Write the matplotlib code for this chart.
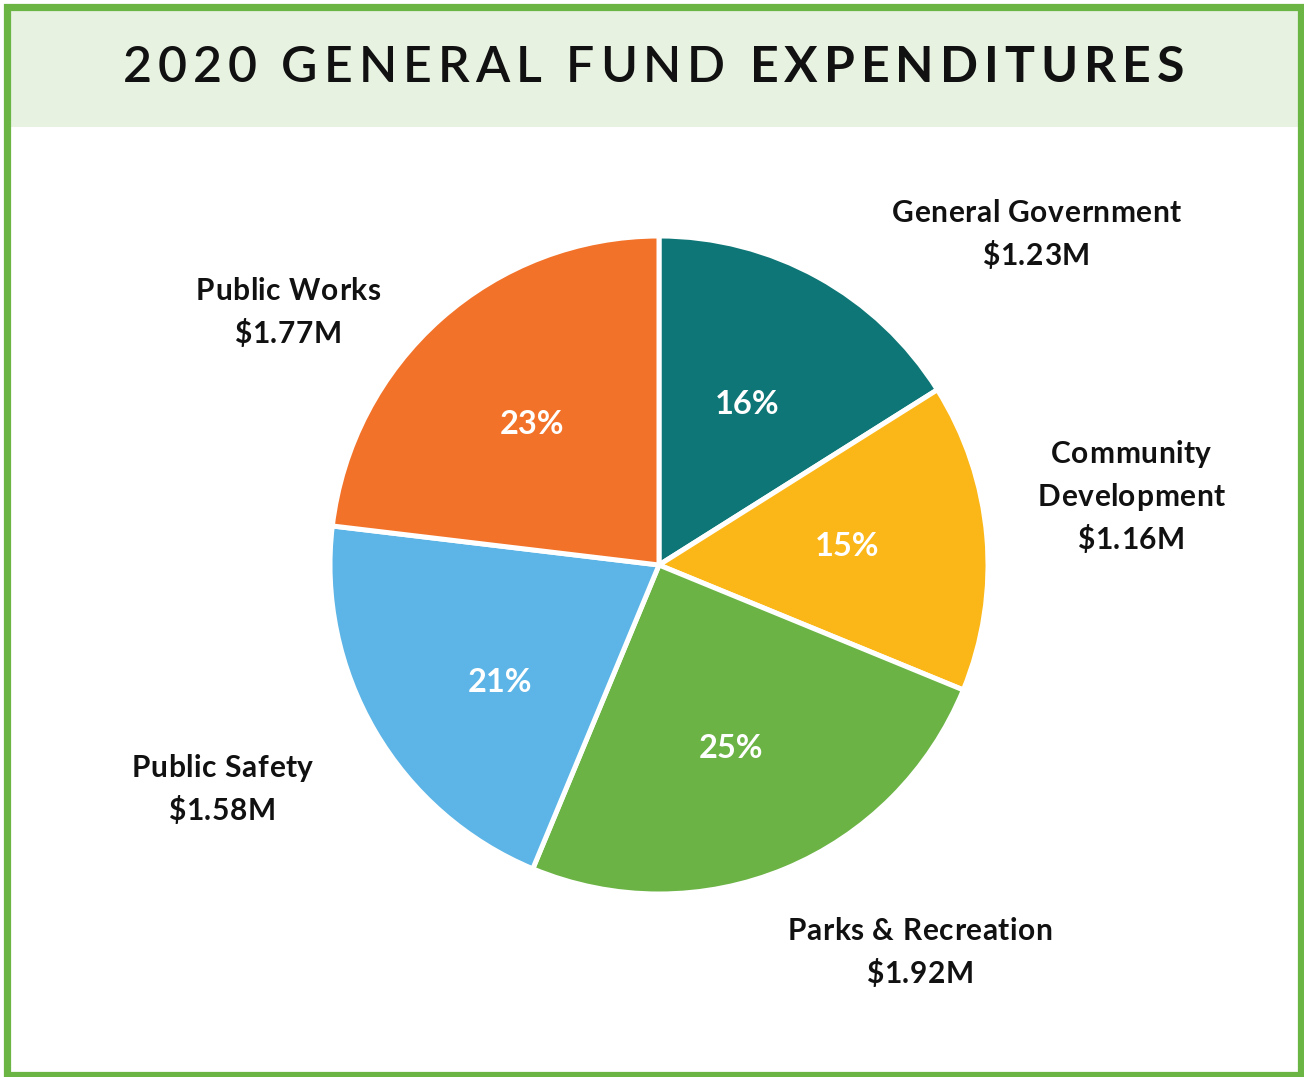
import matplotlib
matplotlib.use("Agg")
import matplotlib.pyplot as plt
from matplotlib.patches import Rectangle
from matplotlib.font_manager import FontProperties, findfont
from matplotlib import ft2font

categories = ["General Government", "Community\nDevelopment", "Parks & Recreation",
              "Public Safety", "Public Works"]
values = [1.23, 1.16, 1.92, 1.58, 1.77]  # $M
value_labels = ["$1.23M", "$1.16M", "$1.92M", "$1.58M", "$1.77M"]
colors = ["#0e7676", "#fbb617", "#6bb345", "#5cb5e6", "#f37229"]
title_regular = "2020 GENERAL FUND "
title_bold = "EXPENDITURES"

W, H = 1304, 1077
DPI = 100
fig = plt.figure(figsize=(W / DPI, H / DPI), dpi=DPI)
ax = fig.add_axes([0, 0, 1, 1])


def Y(y):
    return H - y


_font_cache = {}


def advance(c, weight, fs):
    key = (weight, fs)
    if key not in _font_cache:
        fp = FontProperties(family="Lato", weight=weight, size=fs)
        f = ft2font.FT2Font(findfont(fp))
        f.set_size(fs, DPI)
        _font_cache[key] = f
    f = _font_cache[key]
    g = f.load_char(ord(c))
    return g.linearHoriAdvance / 65536.0


def spaced_line(segments, fs, track, baseline_y, x_left=None, x_center=None,
                color="#111111", zorder=6):
    chars = [(c, w) for s, w in segments for c in s]
    advs = [advance(c, w, fs) for c, w in chars]
    total = sum(advs) + track * (len(chars) - 1)
    if x_center is not None:
        x = x_center - total / 2
    else:
        x = x_left
    for (c, w), a in zip(chars, advs):
        if c != " ":
            ax.text(x, Y(baseline_y), c, fontsize=fs, family="Lato", fontweight=w,
                    color=color, ha="left", va="baseline", zorder=zorder)
        x += a + track
    return total


# banner
ax.add_patch(Rectangle((9, Y(127)), W - 15, 118, facecolor="#e7f2e1",
                       edgecolor="none", zorder=0))
# border
ax.add_patch(Rectangle((6.5, Y(1074.5)), 1301 - 6.5, 1074.5 - 6.5, facecolor="none",
                       edgecolor="#6bb545", linewidth=5.2, zorder=5))

# pie
wedges, texts, autotexts = ax.pie(
    values, colors=colors, startangle=90, counterclock=False,
    center=(659, Y(565)), radius=329, autopct="%.0f%%", pctdistance=0.58,
    wedgeprops=dict(edgecolor="white", linewidth=3.6),
    textprops=dict(color="white", fontsize=23.5, fontweight="bold", family="Lato"),
    frame=True)

# percent label placement (as in reference)
pct_pos = [(747, 405), (847, 547), (731, 748), (500, 683), (532, 424)]
for t, (px, py) in zip(autotexts, pct_pos):
    t.set_position((px, Y(py)))
    t.set_va("center")
    t.set_ha("center")

ax.set_xlim(0, W)
ax.set_ylim(0, H)
ax.set_aspect("equal")
ax.axis("off")

# outer labels (x center, first baseline)
label_pos = [(1036, 222), (1131, 463), (920, 940), (222, 777), (288, 300)]
LINE = 43
for cat, vl, (x, y) in zip(categories, value_labels, label_pos):
    lines = cat.split("\n") + [vl]
    for i, ln in enumerate(lines):
        spaced_line([(ln, "bold")], 21.5, 0.6, y + i * LINE, x_center=x)

# title with letter spacing
fs_t = 36
segs = [(title_regular, 600), (title_bold, "bold")]
nat = sum(advance(c, w, fs_t) for s, w in segs for c in s)
n = sum(len(s) for s, w in segs)
x_start, x_end = 123, 1184
track = (x_end - x_start - nat) / (n - 1)
spaced_line(segs, fs_t, track, 82, x_left=x_start)

fig.savefig("out.png", dpi=DPI)
